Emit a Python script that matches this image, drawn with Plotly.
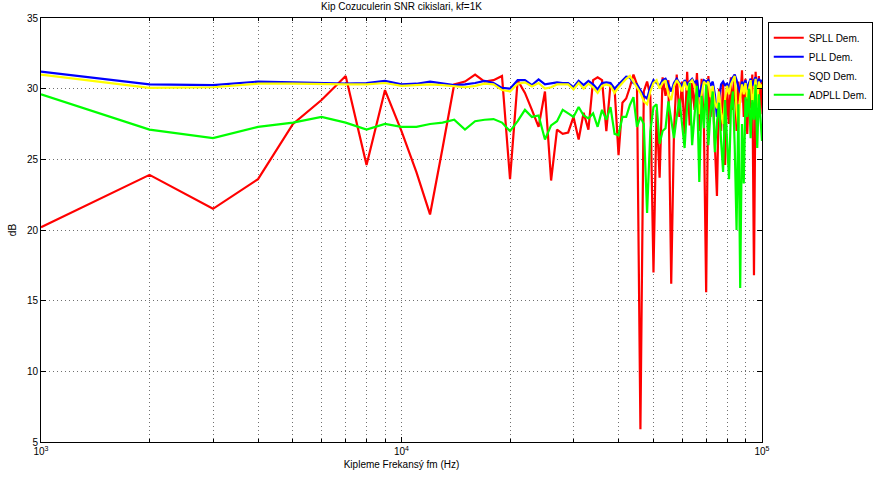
import plotly.graph_objects as go

freq_khz = list(range(1, 101))
freq = [k * 1000 for k in freq_khz]

spll = [20.2, 23.9, 21.5, 23.6, 27.5, 29.2, 30.9, 24.6, 29.9, 27.0,
        24.1, 21.1, 25.8, 30.3, 30.5, 31.0, 30.5, 30.6, 30.9, 23.6,
        30.6, 29.7, 28.5, 27.3, 29.8, 23.5, 27.1, 26.8, 26.9, 28.0,
        26.4, 28.3, 27.1, 30.6, 30.8, 30.6, 27.0, 30.3, 30.0, 25.3,
        29.0, 29.3, 30.1, 31.0, 30.3, 5.9, 29.8, 30.5, 29.5, 17.0,
        28.5, 23.7, 30.8, 29.5, 30.6, 16.2, 27.0, 31.0, 28.0, 30.5,
        26.8, 31.2, 27.4, 30.4, 28.5, 31.1, 27.0, 30.7, 27.5, 15.6,
        30.9, 28.0, 29.8, 26.5, 22.4, 30.0, 27.0, 30.5, 24.6, 30.2,
        27.5, 30.8, 28.5, 31.0, 27.0, 30.5, 29.0, 31.3, 28.0, 30.7,
        26.8, 30.2, 28.6, 31.0, 16.8, 31.2, 29.0, 30.9, 28.2, 30.6]

pll = [31.2, 30.3, 30.25, 30.5, 30.45, 30.4, 30.35, 30.4, 30.55, 30.3,
       30.35, 30.5, 30.35, 30.25, 30.3, 30.4, 30.55, 30.4, 30.05, 30.0,
       30.6, 30.6, 30.25, 30.65, 30.3, 30.35, 30.45, 30.4, 30.4, 30.1,
       30.55, 30.25, 30.55, 30.3, 29.95, 30.4, 30.45, 30.4, 30.0, 30.3,
       30.55, 30.85, 30.8, 30.4, 30.3, 29.9, 29.5, 29.3, 30.1, 30.6,
       30.4, 30.2, 30.6, 30.7, 30.3, 29.8, 30.4, 30.7, 30.4, 30.2,
       30.6, 30.3, 30.5, 30.7, 30.4, 30.6, 29.4, 30.2, 30.6, 30.5,
       30.6, 30.2, 30.5, 29.6, 28.0, 29.4, 30.3, 30.5, 30.2, 30.4,
       30.0, 30.6, 30.8, 31.0, 30.6, 30.2, 29.7, 30.5, 30.2, 30.6,
       29.9, 30.4, 30.7, 30.2, 30.6, 30.8, 30.3, 30.7, 30.5, 30.6]

sqd = [31.0, 30.05, 30.1, 30.35, 30.35, 30.3, 30.3, 30.3, 30.4, 30.2,
       30.25, 30.3, 30.25, 30.15, 30.1, 30.2, 30.35, 30.3, 29.9, 29.8,
       30.35, 30.45, 30.15, 30.4, 30.0, 30.1, 30.3, 30.3, 30.3, 29.95,
       30.4, 30.0, 30.35, 30.1, 29.7, 30.2, 30.3, 30.2, 29.7, 30.1,
       30.4, 30.7, 30.9, 30.5, 30.1, 29.7, 29.1, 28.9, 29.8, 30.4,
       30.6, 30.0, 30.4, 30.6, 29.6, 29.2, 30.2, 30.6, 30.3, 29.8,
       30.5, 29.9, 30.4, 30.6, 30.2, 29.5, 28.2, 29.6, 30.5, 30.2,
       30.5, 29.4, 30.2, 29.0, 28.6, 29.8, 28.3, 27.5, 29.3, 30.2,
       29.6, 30.3, 30.6, 30.9, 28.5, 27.2, 29.4, 30.3, 29.6, 30.4,
       29.3, 30.1, 30.6, 29.0, 29.6, 30.7, 28.8, 30.5, 30.0, 30.3]

adpll = [29.6, 27.1, 26.5, 27.3, 27.6, 28.0, 27.6, 27.1, 27.5, 27.3,
         27.3, 27.5, 27.6, 27.8, 27.1, 27.7, 27.8, 27.85, 27.6, 27.0,
         27.7, 28.5, 28.0, 28.1, 26.4, 27.4, 27.7, 28.5, 28.25, 28.0,
         28.7, 28.1, 27.9, 28.25, 27.3, 28.5, 27.8, 28.7, 26.8, 26.7,
         28.0, 28.0, 28.85, 29.4, 27.3, 28.0, 27.5, 21.2, 27.0, 28.7,
         28.9, 26.1, 27.0, 27.2, 29.1, 27.8, 26.5, 28.0, 29.3, 27.5,
         25.8, 28.8, 30.4, 26.0, 28.5, 30.2, 23.4, 29.5, 27.2, 30.3,
         26.0, 28.4, 29.8, 25.5, 27.6, 29.0, 26.3, 24.1, 29.2, 26.8,
         23.6, 28.6, 29.8, 26.0, 20.0, 28.9, 15.9, 27.5, 23.3, 29.4,
         28.0, 30.0, 26.5, 29.2, 27.8, 30.3, 25.8, 29.6, 28.2, 26.3]

series_names = ["SPLL Dem.", "PLL Dem.", "SQD Dem.", "ADPLL Dem."]
series_values = [spll, pll, sqd, adpll]
series_colors = ["#ff0000", "#0000ff", "#ffff00", "#00ff00"]

x_major_vals = [1000, 10000, 100000]
x_major_text = ["10<sup>3</sup>", "10<sup>4</sup>", "10<sup>5</sup>"]
x_minor_vals = [m * d for d in (1000, 10000) for m in range(2, 10)]
y_tick_vals = [5, 10, 15, 20, 25, 30, 35]

title_text = "Kip Cozuculerin SNR cikislari, kf=1K"
x_title = "Kipleme Frekansý fm (Hz)"
y_title = "dB"

fig = go.Figure()
for name, vals, col in zip(series_names, series_values, series_colors):
    fig.add_trace(go.Scatter(x=freq, y=vals, mode="lines", name=name,
                             line=dict(color=col, width=2.2)))

font_family = "Liberation Sans, Arial, sans-serif"
grid_col = "#707070"
grid_dash = "1px,3px"
fig.update_layout(
    width=877, height=482,
    margin=dict(l=41, r=115, t=18, b=40, autoexpand=False),
    paper_bgcolor="white", plot_bgcolor="white",
    font=dict(family=font_family, size=10, color="black"),
    title=dict(text=title_text, x=0.5, xref="paper", xanchor="center",
               y=1, yref="container", yanchor="top", pad=dict(t=3),
               font=dict(size=10)),
    legend=dict(x=1.008, y=0.99, xanchor="left", yanchor="top",
                bordercolor="black", borderwidth=1, bgcolor="white",
                font=dict(size=10), tracegroupgap=0, itemwidth=30),
    showlegend=True,
)
fig.update_xaxes(
    type="log", range=[3, 5],
    tickvals=x_major_vals, ticktext=x_major_text, tickangle=0,
    ticks="inside", ticklen=5, tickcolor="black",
    showline=True, linecolor="black", linewidth=1, mirror="allticks",
    showgrid=True, gridcolor=grid_col, griddash=grid_dash, gridwidth=1,
    minor=dict(tickvals=x_minor_vals, ticks="inside", ticklen=3,
               tickcolor="black", showgrid=True, gridcolor=grid_col,
               griddash=grid_dash, gridwidth=1),
    zeroline=False,
    title=dict(text=x_title, standoff=4, font=dict(size=10)),
)
fig.update_yaxes(
    range=[5, 35], tickvals=y_tick_vals,
    ticks="inside", ticklen=5, tickcolor="black",
    showline=True, linecolor="black", linewidth=1, mirror="allticks",
    showgrid=True, gridcolor=grid_col, griddash=grid_dash, gridwidth=1,
    zeroline=False,
    title=dict(text=y_title, standoff=8, font=dict(size=10)),
)

fig.write_html("out.html")
